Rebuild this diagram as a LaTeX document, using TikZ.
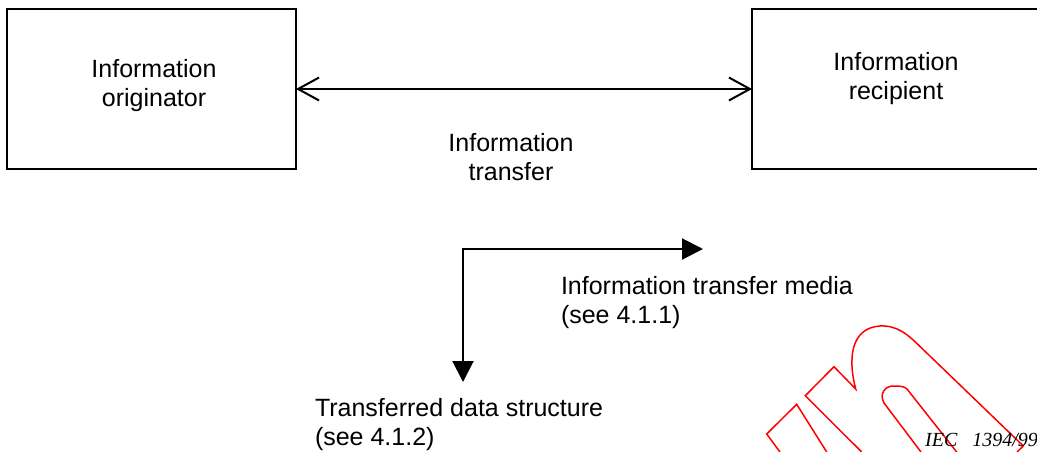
\documentclass[tikz,border=0pt]{standalone}
\usepackage{fontspec}
\setmainfont{Liberation Sans}
\newfontfamily\iecfont{Liberation Serif}
\usetikzlibrary{arrows.meta}
\tikzset{
  box/.style={draw, line width=2pt, inner sep=0pt, outer sep=0pt},
  lbl/.style={font=\fontsize{25}{29}\selectfont, inner sep=0pt, outer sep=0pt},
  conn/.style={line width=2pt},
  barb/.tip={Straight Barb[length=21pt,width=23pt]},
  tri/.tip={Triangle[length=21pt,width=21pt]},
  wmark/.style={draw=red, line width=1.5pt, line join=miter}
}
\begin{document}
\begin{tikzpicture}[x=1pt,y=-1pt]
\useasboundingbox (0,0) rectangle (1037,452);
\clip (0,0) rectangle (1037,452);
% boxes
\node[box, minimum width=289pt, minimum height=160pt] (orig) at (151.5,89) {};
\node[box, minimum width=293pt, minimum height=160pt] (recip) at (898.5,89) {};
% box texts
\node[lbl, align=center] (origtext) at (154,86) {Information\\originator};
\node[lbl, align=center] (reciptext) at (896,79) {Information\\recipient};
% transfer
\draw[conn, barb-barb] (orig.east) -- (recip.west);
\node[lbl, align=center] (transfer) at (511,157) {Information\\transfer};
% bent arrow
\coordinate (corner) at (463,249);
\coordinate (mediaend) at (703,249);
\coordinate (dataend) at (463,382);
\draw[conn, tri-tri, line join=miter] (dataend) -- (corner) -- (mediaend);
\node[lbl, align=left, anchor=west] (media) at (561,303) {Information transfer media\\(see 4.1.1)};
\node[lbl, align=left, anchor=west] (data) at (315,425) {Transferred data structure\\(see 4.1.2)};
% watermark
\path[wmark] (780,452) -- (766.7,434) -- (796.7,404.3) -- (826.7,452);
\path[wmark] (861.7,452) -- (805.3,395.7) -- (834,366.7) -- (855.7,389)
  .. controls (848,360) and (850,328) .. (880,326)
  .. controls (897,325) and (908,335) .. (916.7,343.3)
  -- (1023.3,446) -- (1017,452);
\path[wmark] (921,452) -- (884,403)
  .. controls (879,394) and (885,386) .. (893,386)
  .. controls (899,386) and (904,386) .. (907,389) -- (956.7,452);
% reference mark
\node[inner sep=0pt, anchor=base west, font=\iecfont\itshape\fontsize{20}{24}\selectfont] (iec) at (925,446) {IEC\hspace{0.75em}1394/99};
\end{tikzpicture}
\end{document}
